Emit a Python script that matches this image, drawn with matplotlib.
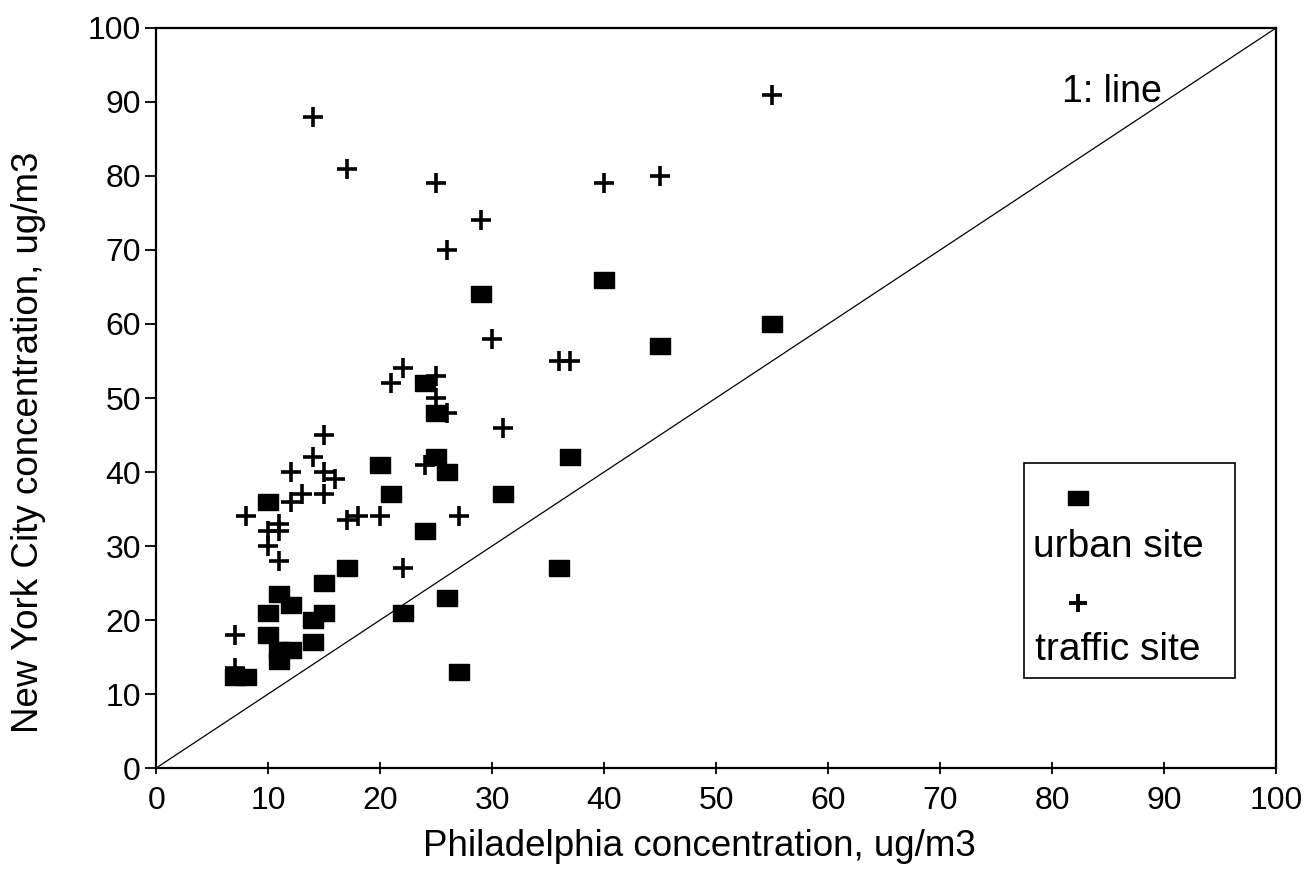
import matplotlib
matplotlib.use("Agg")
import matplotlib.pyplot as plt
from matplotlib.patches import Rectangle

plt.rcParams['font.family'] = ['Liberation Sans', 'DejaVu Sans']

# Urban site (filled squares): Philadelphia vs New York City
urban_x = [7, 8, 10, 20, 21, 29, 40, 45, 55, 24, 25, 37, 25, 26, 31, 24, 36, 26,
           22, 27, 17, 15, 11, 10, 12, 14, 15, 10, 11, 11, 12, 14]
urban_y = [12.3, 12.3, 36, 41, 37, 64, 66, 57, 60, 52, 48, 42, 42, 40, 37, 32, 27, 23,
           21, 13, 27, 25, 23.5, 21, 22, 20, 21, 18, 16, 14.5, 16, 17]

# Traffic site (plus signs)
traffic_x = [14, 17, 25, 29, 26, 40, 45, 55, 30, 36, 37, 22, 21, 25, 25, 26, 31, 24,
             15, 14, 12, 15, 16, 13, 15, 12, 8, 11, 10, 11, 10, 11, 17, 18, 20, 27,
             22, 7, 7]
traffic_y = [88, 81, 79, 74, 70, 79, 80, 91, 58, 55, 55, 54, 52, 53, 50, 48, 46, 41,
             45, 42, 40, 40, 39, 37, 37, 36, 34, 33, 32, 32, 30, 28, 33.5, 34, 34, 34,
             27, 18, 13.5]

ticks = [0, 10, 20, 30, 40, 50, 60, 70, 80, 90, 100]
one_to_one = [0, 100]

rect_marker = [(-1, -0.75), (1, -0.75), (1, 0.75), (-1, 0.75), (-1, -0.75)]

fig = plt.figure(figsize=(13.12, 8.69), dpi=100)
ax = fig.add_axes([0.119, 0.1162, 0.8536, 0.8516])

ax.plot(one_to_one, one_to_one, color='black', lw=0.9, zorder=1)
ax.plot(urban_x, urban_y, linestyle='none', marker=rect_marker, markersize=15,
        color='black', zorder=3)
ax.plot(traffic_x, traffic_y, linestyle='none', marker='+', markersize=15,
        markeredgewidth=2.6, color='black', zorder=4)

ax.set_xlim(0, 100)
ax.set_ylim(0, 100)
ax.set_xticks(ticks)
ax.set_yticks(ticks)
ax.tick_params(axis='both', labelsize=23, colors='black', width=1.3)
ax.tick_params(axis='x', direction='inout', length=8, pad=9)
ax.tick_params(axis='y', direction='out', length=8, pad=3)
for s in ax.spines.values():
    s.set_linewidth(1.6)

ax.set_xlabel('Philadelphia concentration, ug/m3', fontsize=26.5)
ax.set_ylabel('New York City concentration, ug/m3', fontsize=26.5)
ax.xaxis.set_label_coords(0.485, -0.083)
ax.yaxis.set_label_coords(-0.098, 0.44)

ax.text(80.9, 91.4, '1: line', fontsize=27, ha='left', va='center')

# legend box (manual: marker above label)
ax.add_patch(Rectangle((77.5, 12.2), 18.8, 29.0, transform=ax.transData,
                       facecolor='white', edgecolor='black', lw=1.2, zorder=5))
ax.plot([82.3], [36.5], linestyle='none', marker=rect_marker, markersize=14,
        color='black', zorder=6)
ax.text(85.9, 29.9, 'urban site', fontsize=28, ha='center', va='center', zorder=6)
ax.plot([82.3], [22.3], linestyle='none', marker='+', markersize=13,
        markeredgewidth=2.8, color='black', zorder=6)
ax.text(85.9, 15.9, 'traffic site', fontsize=28, ha='center', va='center', zorder=6)

fig.savefig('out.png', dpi=100)
